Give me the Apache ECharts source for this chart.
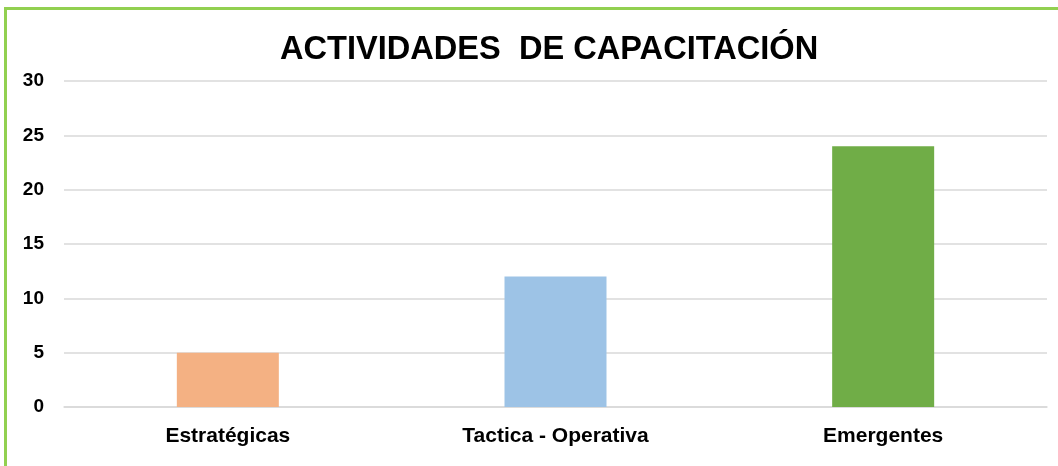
<!DOCTYPE html>
<html>
<head>
<meta charset="utf-8">
<script src="https://cdn.jsdelivr.net/npm/echarts@6/dist/echarts.min.js"></script>
<style>
  html, body { margin: 0; padding: 0; background: #fff; overflow: hidden; }
  #frame { position: absolute; left: 4px; top: 7px; width: 1200px; height: 600px;
           border: 3px solid #92D050; box-sizing: border-box; }
  #chart { position: absolute; left: 0; top: 0; width: 1058px; height: 466px; }
</style>
</head>
<body>
<div id="frame"></div>
<div id="chart"></div>
<script>
const titleText = 'ACTIVIDADES  DE CAPACITACIÓN';
const categories = ['Estratégicas', 'Tactica - Operativa', 'Emergentes'];
const values = [5, 12, 24];
const barColors = ['#F4B183', '#9DC3E6', '#70AD47'];

const font = 'Liberation Sans, Arial, sans-serif';
const chart = echarts.init(document.getElementById('chart'));
chart.setOption({
  animation: false,
  backgroundColor: 'transparent',
  title: {
    text: titleText,
    left: 275,
    top: 29,
    textStyle: { fontFamily: font, fontSize: 32.6, fontWeight: 'bold', color: '#000' }
  },
  grid: { left: 64, right: 11, top: 81, bottom: 59 },
  xAxis: {
    type: 'category',
    data: categories,
    axisLine: { show: true, lineStyle: { color: '#d9d9d9', width: 1.5 } },
    axisTick: { show: false },
    axisLabel: { margin: 19, color: '#000', fontSize: 21, fontWeight: 'bold', fontFamily: font }
  },
  yAxis: {
    type: 'value',
    min: 0, max: 30, interval: 5,
    axisLine: { show: false },
    axisTick: { show: false },
    splitLine: { lineStyle: { color: '#d9d9d9', width: 1.5 } },
    axisLabel: { margin: 20, color: '#000', fontSize: 19, fontWeight: 'bold', fontFamily: font }
  },
  series: [{
    type: 'bar',
    barWidth: 102,
    data: values.map((v, i) => ({ value: v, itemStyle: { color: barColors[i] } }))
  }]
});
</script>
</body>
</html>
